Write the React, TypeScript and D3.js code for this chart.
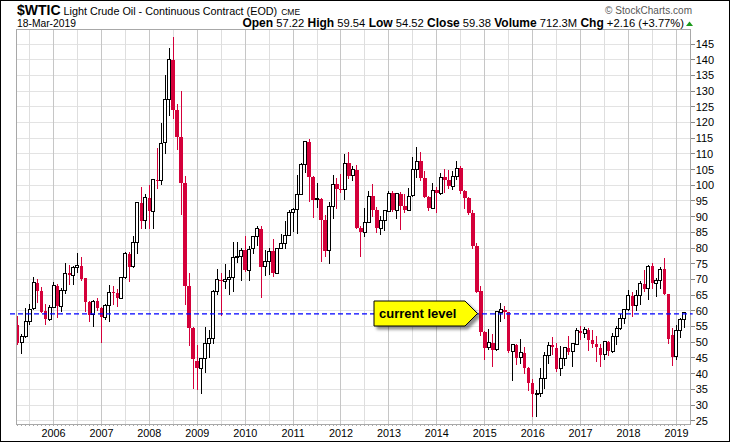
import * as d3 from 'd3'

// monthly bars of $WTIC, Apr 2005 .. Mar 2019 (one value per month)
const opens = [
  55.4, 49.8, 51.9, 56.6, 60.6, 69.0, 66.2, 60.0, 57.3,
  61.0, 67.8, 61.5, 66.6, 71.9, 71.3, 73.9, 74.4, 70.3, 62.9, 58.7, 63.0,
  61.0, 58.0, 61.8, 65.9, 65.7, 64.0, 70.7, 78.2, 74.0, 81.7, 94.5, 88.7,
  96.0, 91.8, 101.8, 101.6, 113.5, 127.4, 140.0, 124.0, 115.5, 100.6, 67.8, 54.4,
  44.0, 41.7, 44.8, 49.7, 51.1, 66.3, 69.9, 69.5, 70.0, 70.6, 77.0, 77.3,
  79.4, 72.9, 79.7, 83.8, 86.2, 74.0, 75.6, 79.0, 72.0, 80.0, 81.4, 84.1,
  91.4, 92.2, 97.0, 106.7, 113.9, 102.7, 95.4, 95.7, 88.8, 79.2, 93.2, 100.4,
  98.8, 98.5, 107.0, 103.0, 104.9, 86.5, 85.0, 88.0, 96.5, 92.2, 86.2, 88.9,
  91.8, 97.5, 92.0, 97.2, 93.5, 92.0, 96.6, 105.0, 107.7, 102.3, 96.4, 92.7,
  98.4, 97.5, 102.6, 101.6, 99.7, 102.7, 105.4, 98.2, 96.0, 91.2, 80.5, 66.2,
  53.3, 48.2, 49.8, 47.6, 59.6, 60.3, 59.5, 47.1, 49.2, 45.1, 46.6, 41.7,
  37.0, 33.6, 33.8, 38.3, 45.9, 49.1, 48.3, 41.6, 44.7, 48.2, 46.9, 49.4,
  53.7, 52.8, 54.0, 50.6, 49.3, 48.3, 46.0, 50.2, 47.2, 51.7, 54.4, 57.4,
  60.4, 64.7, 61.6, 64.9, 68.6, 67.0, 74.2, 68.8, 69.8, 73.2, 65.3, 52.4,
  45.4, 53.8, 57.22,
]
const highs = [
  58.3, 52.6, 60.95, 62.3, 70.85, 70.2, 67.5, 62.3, 61.9,
  69.2, 68.5, 67.3, 75.35, 74.6, 74.15, 78.4, 77.0, 70.4, 63.0, 63.5, 64.2,
  61.2, 62.3, 68.1, 67.9, 66.9, 70.7, 78.8, 78.8, 83.9, 94.7, 99.3, 97.3,
  100.1, 102.1, 111.8, 119.9, 135.1, 143.7, 147.3, 126.0, 130.0, 103.0, 72.0, 54.9,
  49.1, 45.0, 54.7, 54.0, 66.7, 73.4, 72.0, 75.0, 72.9, 82.0, 82.0, 80.0,
  83.95, 80.5, 83.85, 87.15, 87.0, 79.4, 80.0, 82.9, 80.1, 84.4, 88.6, 92.0,
  92.6, 103.4, 107.0, 114.0, 114.8, 103.0, 100.6, 95.9, 90.5, 94.7, 103.4, 102.4,
  103.7, 109.8, 110.55, 106.0, 106.4, 86.9, 92.9, 98.3, 100.4, 93.0, 90.3, 91.9,
  98.2, 98.2, 97.6, 97.8, 97.3, 99.0, 108.9, 112.2, 110.7, 104.4, 96.5, 100.75,
  99.4, 104.0, 105.2, 104.9, 104.5, 107.7, 106.0, 98.6, 96.3, 92.0, 81.7, 67.8,
  53.6, 54.2, 52.5, 59.9, 62.6, 61.6, 59.6, 49.3, 49.3, 50.9, 48.4, 42.0,
  38.4, 34.8, 41.9, 46.8, 50.2, 51.7, 49.6, 48.75, 48.3, 51.9, 49.9, 54.5,
  55.2, 54.9, 54.5, 53.8, 52.0, 49.3, 50.4, 50.4, 52.9, 55.2, 59.05, 60.5,
  66.7, 66.0, 66.6, 69.6, 72.9, 74.5, 75.3, 70.4, 73.9, 76.9, 65.4, 54.6,
  55.4, 57.8, 59.54,
]
const lows = [
  49.1, 46.2, 51.2, 55.5, 60.3, 62.5, 59.4, 55.6, 56.7,
  60.8, 57.6, 59.5, 65.5, 68.2, 68.1, 72.2, 69.5, 59.5, 56.6, 54.9, 60.1,
  49.9, 57.0, 56.3, 61.9, 61.3, 63.9, 70.1, 69.1, 73.7, 78.1, 86.0, 86.1,
  86.1, 86.1, 98.7, 100.1, 109.9, 122.1, 121.0, 111.3, 90.5, 62.0, 48.8, 35.0,
  34.8, 33.5, 40.3, 45.0, 49.3, 65.0, 58.3, 66.8, 65.1, 66.0, 75.2, 69.5,
  72.4, 69.5, 78.1, 80.5, 64.2, 71.1, 71.5, 70.8, 71.8, 79.8, 79.6, 84.0,
  85.1, 84.4, 96.9, 104.0, 94.6, 89.7, 92.6, 75.7, 77.1, 74.95, 89.2, 92.5,
  97.6, 95.4, 102.0, 101.3, 86.1, 77.3, 83.6, 88.0, 89.9, 84.9, 84.1, 85.3,
  91.8, 91.5, 89.3, 85.6, 91.2, 92.0, 96.4, 102.2, 101.5, 95.9, 91.8, 92.3,
  91.2, 96.8, 97.4, 98.7, 98.4, 101.6, 97.2, 92.5, 90.4, 79.8, 65.7, 52.0,
  44.2, 47.4, 42.0, 47.1, 56.5, 57.4, 46.7, 37.75, 42.6, 43.2, 40.0, 34.5,
  26.2, 26.05, 32.5, 35.2, 43.0, 45.8, 40.6, 39.2, 42.5, 46.0, 42.2, 49.3,
  50.7, 51.2, 47.1, 48.2, 43.8, 42.05, 44.4, 45.6, 46.5, 49.1, 53.8, 55.8,
  59.8, 58.1, 59.95, 62.0, 66.1, 63.6, 67.0, 64.4, 67.0, 64.9, 49.4, 42.4,
  44.35, 51.2, 54.52,
]
const closes = [
  49.72, 51.97, 56.5, 60.57, 68.94, 66.24, 59.76, 57.32, 61.04,
  67.92, 61.41, 66.63, 71.88, 71.29, 73.93, 74.4, 70.26, 62.91, 58.73, 62.97, 61.05,
  58.14, 61.79, 65.87, 65.71, 64.01, 70.68, 78.21, 74.04, 81.66, 94.53, 88.71, 95.98,
  91.75, 101.84, 101.58, 113.46, 127.35, 140.0, 124.08, 115.46, 100.64, 67.81, 54.43, 44.6,
  41.68, 44.76, 49.66, 51.12, 66.31, 69.89, 69.45, 69.96, 70.61, 77.0, 77.28, 79.36,
  72.89, 79.66, 83.76, 86.15, 73.97, 75.63, 78.95, 71.92, 79.97, 81.43, 84.11, 91.38,
  92.19, 96.97, 106.72, 113.93, 102.7, 95.42, 95.7, 88.81, 79.2, 93.19, 100.36, 98.83,
  98.48, 107.07, 103.02, 104.87, 86.53, 84.96, 88.06, 96.47, 92.19, 86.24, 88.91, 91.82,
  97.49, 92.05, 97.23, 93.46, 91.97, 96.56, 105.03, 107.65, 102.33, 96.38, 92.72, 98.42,
  97.49, 102.59, 101.58, 99.74, 102.71, 105.37, 98.17, 95.96, 91.16, 80.54, 66.15, 53.27,
  48.24, 49.76, 47.6, 59.63, 60.3, 59.47, 47.12, 49.2, 45.09, 46.59, 41.65, 37.04,
  33.62, 33.75, 38.34, 45.92, 49.1, 48.33, 41.6, 44.7, 48.24, 46.86, 49.44, 53.72,
  52.81, 54.01, 50.6, 49.33, 48.32, 46.04, 50.17, 47.23, 51.67, 54.38, 57.4, 60.42,
  64.73, 61.64, 64.94, 68.57, 67.04, 74.15, 68.76, 69.8, 73.25, 65.31, 50.93, 45.41,
  53.79, 57.22, 59.38,
]

// index 0 = Apr 2005, so January of year Y sits at 9 + 12 * (Y - 2006)
const yearLabels = ['2006', '2007', '2008', '2009', '2010', '2011', '2012', '2013', '2014', '2015', '2016', '2017', '2018', '2019']
const priceTicks = [25, 30, 35, 40, 45, 50, 55, 60, 65, 70, 75, 80, 85, 90, 95, 100, 105, 110, 115, 120, 125, 130, 135, 140, 145]
const currentLevel = 59

const quoteLabels = ['Open', 'High', 'Low', 'Close', 'Volume', 'Chg']
const quoteValues = ['57.22', '59.54', '54.52', '59.38', '712.3M', '+2.16 (+3.77%)']

const W = 730
const H = 442
const plot = { left: 16.7, top: 29.3, right: 690.7, bottom: 424.3 }
const RED = '#d4003a'
const FONT = '"Liberation Sans", Arial, sans-serif'

export default function App() {
  const x = d3.scaleLinear().domain([9, 165]).range([53.5, 676.4])
  const y = d3.scaleLinear().domain([25, 145]).range([420.7, 44])

  const yearIdx = yearLabels.map((_, k) => 9 + 12 * k)
  const midIdx = d3.range(3, closes.length, 12)
  const monthIdx = d3.range(0, closes.length)

  return (
    <svg width={W} height={H} style={{ position: 'absolute', left: 0, top: 0 }} fontFamily={FONT}>
      <defs>
        <clipPath id="plotClip">
          <rect x={plot.left} y={plot.top} width={plot.right - plot.left} height={plot.bottom - plot.top} />
        </clipPath>
        <filter id="shadow" x="-20%" y="-30%" width="140%" height="170%">
          <feDropShadow dx="3" dy="3" stdDeviation="1.6" floodColor="#000" floodOpacity="0.45" />
        </filter>
      </defs>
      <rect x={0} y={0} width={W} height={H} fill="#fff" />

      {/* grid */}
      <g shapeRendering="crispEdges">
        {priceTicks.map(t => (
          <line key={'h' + t} x1={plot.left} x2={plot.right} y1={y(t)} y2={y(t)} stroke="#e3e3e3" />
        ))}
        {midIdx.map(i => (
          <line key={'m' + i} x1={x(i)} x2={x(i)} y1={plot.top} y2={plot.bottom} stroke="#dedede" />
        ))}
        {yearIdx.map(i => (
          <line key={'y' + i} x1={x(i)} x2={x(i)} y1={plot.top} y2={plot.bottom} stroke="#c6c6c6" />
        ))}
      </g>

      {/* candles */}
      <g clipPath="url(#plotClip)" shapeRendering="crispEdges">
        {monthIdx.map(i => {
          const cx = x(i)
          const up = closes[i] >= opens[i]
          const color = up ? '#000' : RED
          const top = y(Math.max(opens[i], closes[i]))
          const bot = y(Math.min(opens[i], closes[i]))
          const h = Math.max(1, bot - top)
          return (
            <g key={i}>
              <line x1={cx} x2={cx} y1={y(highs[i])} y2={y(lows[i])} stroke={color} strokeWidth={1} />
              {up ? (
                <rect x={cx - 1.5} y={top} width={3} height={h} fill="#fff" stroke="#000" strokeWidth={1} />
              ) : (
                <rect x={cx - 1.8} y={top} width={3.6} height={h} fill={RED} />
              )}
            </g>
          )
        })}
      </g>

      {/* frame and axes */}
      <g shapeRendering="crispEdges">
        <rect x={plot.left} y={plot.top} width={plot.right - plot.left} height={plot.bottom - plot.top} fill="none" stroke="#a8a8a8" />
        {priceTicks.map(t => (
          <line key={'t' + t} x1={plot.right} x2={plot.right + 4} y1={y(t)} y2={y(t)} stroke="#888" />
        ))}
        {monthIdx.map(i => (
          <line key={'mt' + i} x1={x(i)} x2={x(i)} y1={plot.bottom} y2={plot.bottom + 2} stroke="#aaa" />
        ))}
      </g>
      {priceTicks.map(t => (
        <text key={'l' + t} x={plot.right + 5} y={y(t)} dy="0.36em" fontSize={11} fill="#000">{t}</text>
      ))}
      {yearLabels.map((lab, k) => (
        <text key={lab} x={x(yearIdx[k])} y={437} textAnchor="middle" fontSize={10.8} fill="#000">{lab}</text>
      ))}

      {/* current level */}
      <line x1={10} x2={plot.right + 2} y1={y(currentLevel)} y2={y(currentLevel)} stroke="#0000ff" strokeWidth={1.2} strokeDasharray="5,3" />
      <g filter="url(#shadow)">
        <polygon points="374,301 465,301 477.5,313.5 465,326 374,326" fill="#ffff00" stroke="#000" strokeWidth={1} />
      </g>
      <text x={379} y={318} fontSize={13} fontWeight="bold" fill="#000">current level</text>

      {/* header */}
      <text x={17} y={15} fill="#000">
        <tspan fontSize={14} fontWeight="bold">$WTIC</tspan>
        <tspan fontSize={10.8} dx={3}>Light Crude Oil - Continuous Contract (EOD)</tspan>
        <tspan fontSize={8.5} dx={4}>CME</tspan>
      </text>
      <text x={692} y={14} textAnchor="end" fontSize={10} fill="#555" textLength={87} lengthAdjust="spacing">© StockCharts.com</text>
      <text x={17} y={26.5} fontSize={10.3} fill="#000">18-Mar-2019</text>
      <text x={684} y={26.5} textAnchor="end" fontSize={11.2} fill="#000">
        {quoteLabels.map((lab, k) => (
          <tspan key={lab}>
            <tspan fontWeight="bold" fontSize={12}>{(k > 0 ? '  ' : '') + lab}</tspan>
            <tspan>{' ' + quoteValues[k]}</tspan>
          </tspan>
        ))}
      </text>
      <polygon points="686,26 693,26 689.5,21.5" fill="#1a9a1a" />

      <rect x={0.5} y={0.5} width={W - 1} height={H - 1} fill="none" stroke="#000" />
    </svg>
  )
}
